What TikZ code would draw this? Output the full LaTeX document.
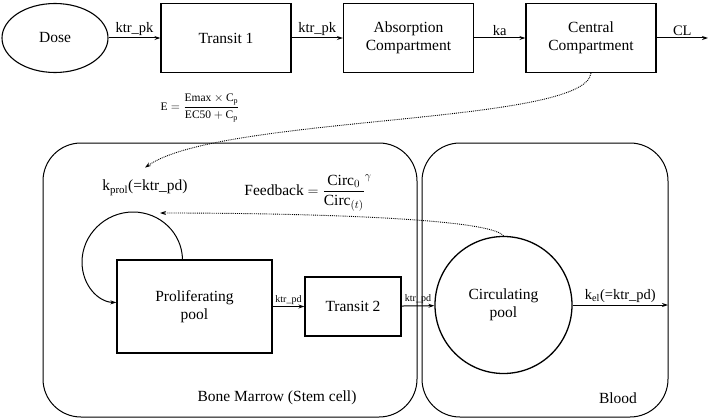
\documentclass[tikz,border=0pt]{standalone}
\usepackage{amsmath}
\usepackage{fontspec}
\setmainfont{Liberation Serif}
\usetikzlibrary{arrows.meta, positioning, shapes.geometric}

\begin{document}
\begin{tikzpicture}[x=1pt,y=-1pt,>={Stealth[length=6pt,width=4pt]},
  box/.style={draw,line width=1.3pt,minimum width=130pt,minimum height=69pt,inner sep=0pt,align=center,font=\fontsize{15.5}{17.5}\selectfont},
  region/.style={draw,rounded corners=38pt,line width=1pt,inner sep=0pt},
  lab/.style={font=\fontsize{14.5}{16}\selectfont,above,inner sep=2pt},
  small/.style={font=\fontsize{10}{12}\selectfont,above,inner sep=1.5pt},
  txt/.style={font=\fontsize{15.5}{17.5}\selectfont}]
\useasboundingbox (0,0) rectangle (709,420);
\node[ellipse,draw,line width=1.1pt,minimum width=106pt,minimum height=69pt,inner sep=0pt,txt] (dose) at (55,38) {Dose};
\node[box] (tr1) at (226,38) {Transit 1};
\node[box] (abs) at (408.5,38) {Absorption\\Compartment};
\node[box] (cen) at (591,38) {Central\\Compartment};
\coordinate (clout) at (708,38);
\draw[->,line width=1pt] (dose) -- node[lab] {ktr\_pk} (tr1);
\draw[->,line width=1pt] (tr1) -- node[lab] {ktr\_pk} (abs);
\draw[->,line width=1pt] (abs) -- node[lab] {ka} (cen);
\draw[->,line width=1pt] (cen) -- node[lab] {CL} (clout);
\node[font=\fontsize{11.5}{13}\selectfont] (emax) at (200,108) {$\mathrm{E}=\dfrac{\mathrm{Emax}\times\mathrm{C_p}}{\mathrm{EC50}+\mathrm{C_p}}$};
\node[region,minimum width=374pt,minimum height=274pt] (bm) at (230,280) {};
\node[region,minimum width=246pt,minimum height=274pt] (blood) at (545,280) {};
\node[txt] (bmlab) at (277,398) {Bone Marrow (Stem cell)};
\node[txt] (bloodlab) at (618,398) {Blood};
\node[txt] (kprol) at (145,188) {k\textsubscript{prol}(=ktr\_pd)};
\node[txt] (fb) at (308,193) {Feedback $={\dfrac{\mathrm{Circ}_0}{\mathrm{Circ}_{(t)}}}^{\gamma}$};
\node[box,minimum width=155pt,minimum height=93pt] (prol) at (194.5,306.5) {Proliferating\\pool};
\node[box,minimum width=96pt,minimum height=59pt] (tr2) at (353,306.5) {Transit 2};
\node[circle,draw,line width=1.3pt,minimum size=137pt,inner sep=0pt,align=center,txt] (circ) at (503.5,305) {Circulating\\pool};
\coordinate (kelout) at (668,305);
\coordinate (fbend) at (160,213);
\draw[->,line width=1pt] (prol) -- node[small] {ktr\_pd} (tr2);
\draw[->,line width=1pt] (tr2) -- node[small] {ktr\_pd} (circ);
\draw[->,line width=1pt] (circ) -- node[lab] {k\textsubscript{el}(=ktr\_pd)} (kelout);
\draw[->,line width=1pt] ([xshift=-12pt]prol.north) .. controls (182,233) and (160,212) .. (133,212) .. controls (105,212) and (82,235) .. (82,262) .. controls (82,285) and (98,302) .. ([yshift=4pt]prol.west);
\draw[->,densely dotted,line width=0.9pt] (cen.south) .. controls (585,125) and (220,115) .. ([yshift=9pt]kprol.north);
\draw[->,densely dotted,line width=0.9pt] (circ.north) .. controls (490,218) and (300,213) .. (fbend);
\end{tikzpicture}
\end{document}
